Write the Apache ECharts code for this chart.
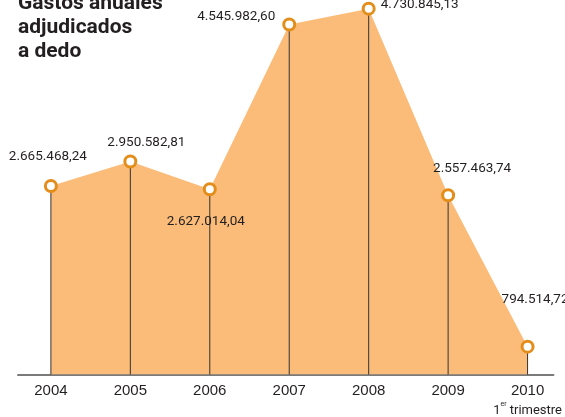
<!DOCTYPE html>
<html>
<head>
<meta charset="utf-8">
<script src="https://cdn.jsdelivr.net/npm/echarts@6/dist/echarts.min.js"></script>
<style>
html, body { margin: 0; padding: 0; background: #fff; }
#main { width: 565px; height: 417px; }
</style>
</head>
<body>
<div id="main"></div>
<script>
// datos
var years = [2004, 2005, 2006, 2007, 2008, 2009, 2010];
var gastos = [2665468.24, 2950582.81, 2627014.04, 4545982.60, 4730845.13, 2557463.74, 794514.72];
var titulo = 'Gastos anuales\nadjudicados\na dedo';

// desplazamiento de las etiquetas respecto al punto
var labelOffsets = [[-3, -29], [16, -19], [-4, 32], [-53, -8], [51, -4], [24, -27], [-26, -47]];

function fmt(v) {
    var parts = v.toFixed(2).split('.');
    var ent = parts[0].replace(/\B(?=(\d{3})+(?!\d))/g, '.');
    return ent + ',' + parts[1];
}

var pares = [];
var puntos = [];
for (let i = 0; i < years.length; i++) {
    pares.push([years[i], gastos[i]]);
    puntos.push({
        value: [years[i], gastos[i]],
        label: {
            offset: labelOffsets[i],
            align: i == years.length - 1 ? 'left' : 'center'
        }
    });
}

var myChart = echarts.init(document.getElementById('main'));

var option = {
    animation: false,
    title: {
        text: titulo,
        left: 18,
        top: -8,
        padding: 0,
        textStyle: {
            fontFamily: 'Roboto',
            fontWeight: 'bold',
            fontSize: 21,
            lineHeight: 24,
            color: '#231f20'
        }
    },
    grid: { left: 18, right: 10, top: 7, bottom: 42 },
    xAxis: {
        type: 'value',
        min: 2003.586,
        max: 2010.326,
        splitLine: { show: false },
        axisTick: { show: false },
        axisLine: { show: true, lineStyle: { color: '#7a7a7a', width: 2 } },
        axisLabel: {
            customValues: years,
            margin: 6,
            fontFamily: 'Liberation Sans',
            fontSize: 15,
            color: '#231f20',
            formatter: function (v) {
                if (v == 2010) {
                    return '{y|2010}\n{n|1}{s|er}{n| trimestre}';
                }
                return '{y|' + v + '}';
            },
            rich: {
                y: { fontFamily: 'Liberation Sans', fontSize: 15, color: '#231f20', lineHeight: 20 },
                n: { fontFamily: 'Roboto', fontSize: 13, color: '#231f20', lineHeight: 20 },
                s: { fontFamily: 'Roboto', fontSize: 7, color: '#231f20', verticalAlign: 'top', lineHeight: 14 }
            }
        }
    },
    yAxis: {
        type: 'value',
        min: 470000,
        max: 4750000,
        show: false,
        splitLine: { show: false }
    },
    series: [
        {
            type: 'line',
            z: 1,
            data: pares,
            symbol: 'none',
            lineStyle: { width: 0 },
            areaStyle: { color: '#fbbc79', opacity: 1 }
        },
        {
            type: 'bar',
            z: 2,
            data: pares,
            barWidth: 1,
            itemStyle: { color: '#333' }
        },
        {
            type: 'scatter',
            z: 3,
            data: puntos,
            symbol: 'circle',
            symbolSize: 11,
            itemStyle: { color: '#fff', borderColor: '#e38d1b', borderWidth: 3, opacity: 1 },
            label: {
                show: true,
                position: 'inside',
                fontFamily: 'Roboto',
                fontSize: 13.5,
                color: '#231f20',
                formatter: function (p) { return fmt(p.value[1]); }
            }
        }
    ]
};

myChart.setOption(option);
</script>
</body>
</html>
